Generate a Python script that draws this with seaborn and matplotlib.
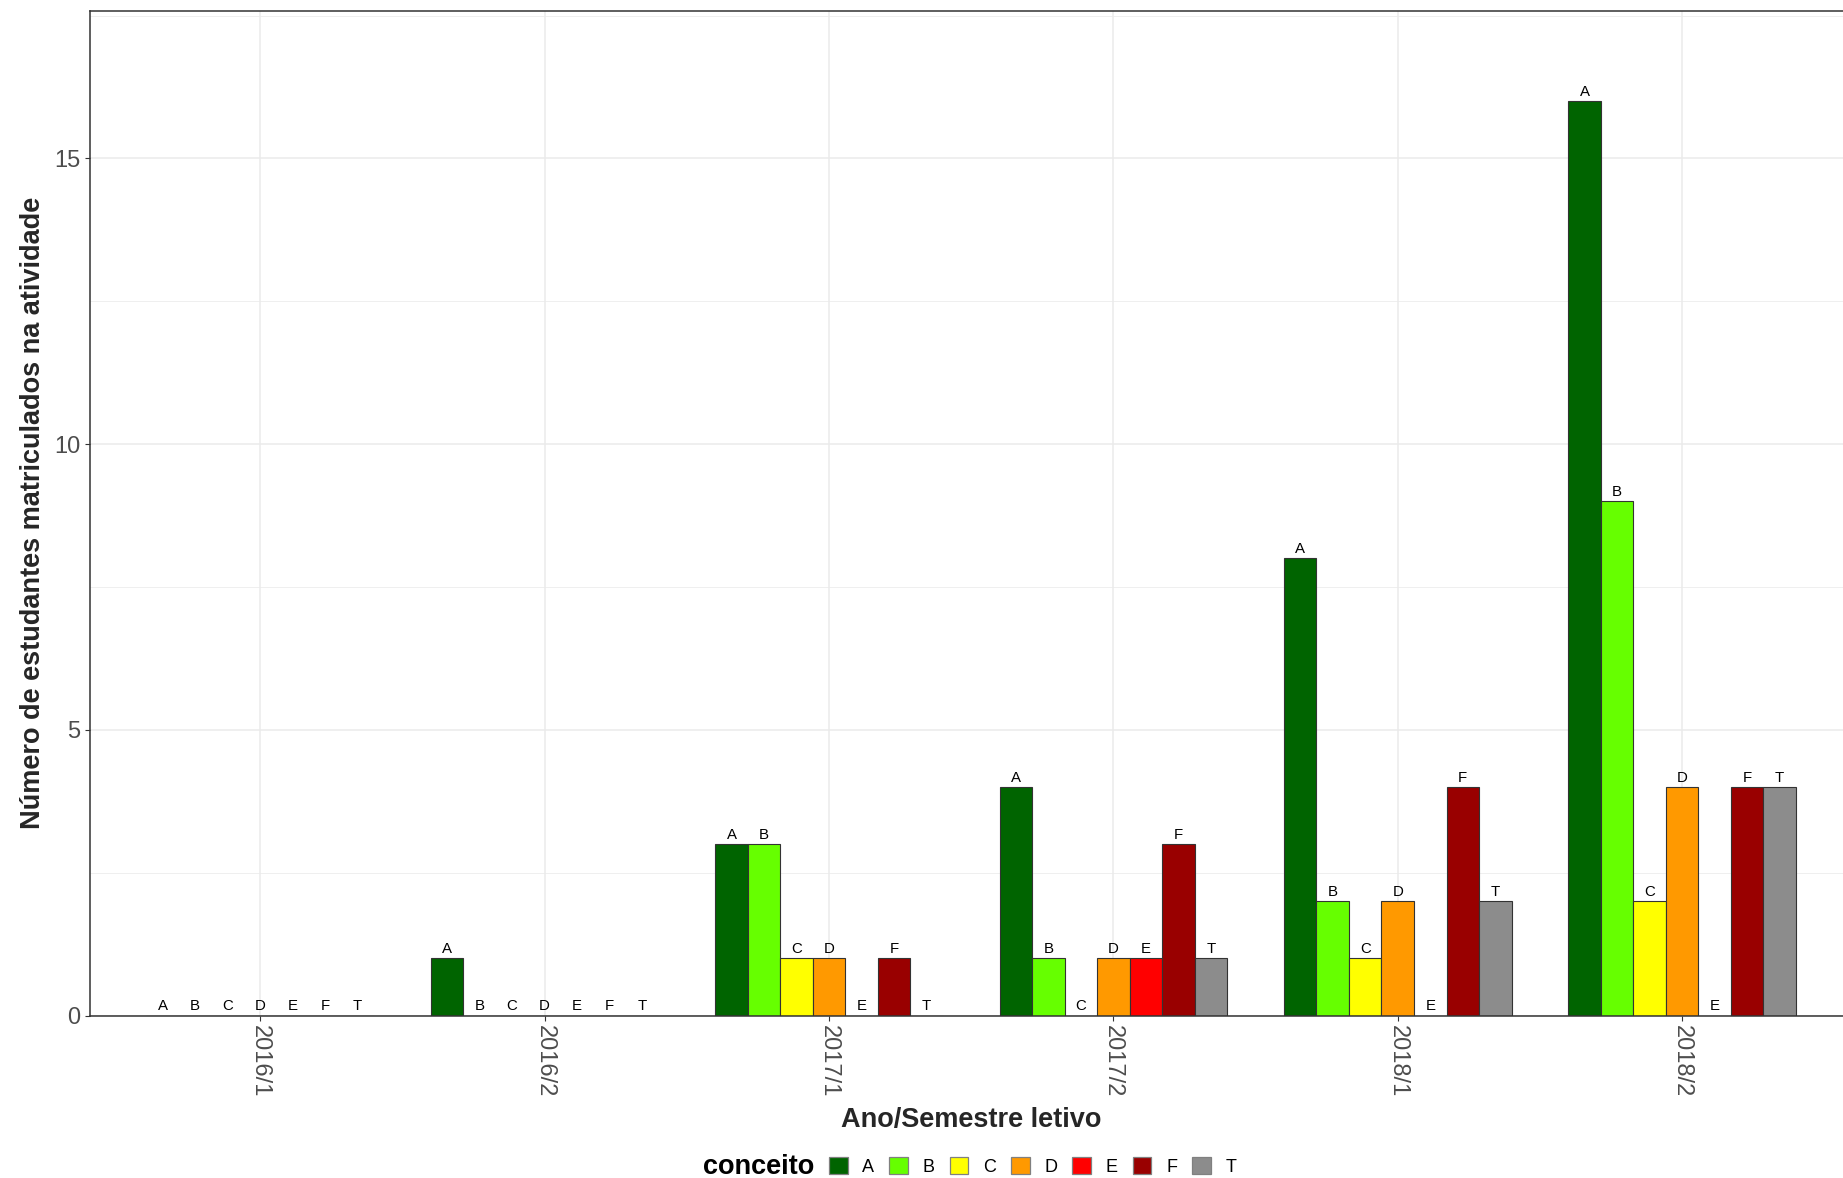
import pandas as pd
import numpy as np
import matplotlib.pyplot as plt
import seaborn as sns
from matplotlib.patches import Patch

# dados: numero de estudantes por conceito em cada semestre
semestres = ["2016/1", "2016/2", "2017/1", "2017/2", "2018/1", "2018/2"]
conceitos = ["A", "B", "C", "D", "E", "F", "T"]
n_A = [0, 1, 3, 4, 8, 16]
n_B = [0, 0, 3, 1, 2, 9]
n_C = [0, 0, 1, 0, 1, 2]
n_D = [0, 0, 1, 1, 2, 4]
n_E = [0, 0, 0, 1, 0, 0]
n_F = [0, 0, 1, 3, 4, 4]
n_T = [0, 0, 0, 1, 2, 4]
cores = ["#006400", "#66FF00", "#FFFF00", "#FF9900", "#FF0000", "#990000", "#8C8C8C"]

contagens = [n_A, n_B, n_C, n_D, n_E, n_F, n_T]
df = pd.DataFrame({
    "semestre": np.tile(semestres, len(conceitos)),
    "conceito": np.repeat(conceitos, len(semestres)),
    "n": np.concatenate(contagens),
})

sns.set_style("ticks")
plt.rcParams["font.family"] = ["Liberation Sans", "DejaVu Sans"]

fig = plt.figure(figsize=(18.43, 11.78), dpi=100)
ax = fig.add_axes([0.0486, 0.1379, 0.9567, 0.8528])

sns.barplot(data=df, x="semestre", y="n", hue="conceito", order=semestres,
            hue_order=conceitos, palette=cores, saturation=1, width=0.8,
            errorbar=None, edgecolor="#333333", linewidth=0.8, legend=False, ax=ax)

# rotulos em cima das barras
for cont, c in zip(ax.containers, conceitos):
    ax.bar_label(cont, labels=[c] * len(cont), padding=1.5, fontsize=10.8, color="black")

ax.set_xlim(-0.6, 5.6)
ax.set_ylim(0, 17.58)
ax.set_yticks([0, 5, 10, 15])
ax.set_yticks([2.5, 7.5, 12.5, 17.5], minor=True)
ax.grid(which="major", color="#EBEBEB", linewidth=1.1)
ax.grid(which="minor", axis="y", color="#EBEBEB", linewidth=0.55)
ax.set_axisbelow(True)

ax.tick_params(which="major", length=3.5, width=0.8, color="#333333",
               labelsize=17, labelcolor="#4D4D4D", pad=3)
ax.tick_params(which="minor", length=0)
plt.setp(ax.get_xticklabels(), rotation=270)
for s in ax.spines.values():
    s.set_visible(True)
    s.set_color("#333333")
    s.set_linewidth(1.1)

ax.set_xlabel("Ano/Semestre letivo", fontsize=19.5, fontweight="bold", labelpad=7)
ax.set_ylabel("Número de estudantes matriculados na atividade", fontsize=19.5,
              fontweight="bold", labelpad=5.7)

# legenda embaixo
y_leg = 1 - 1166.5 / 1178
fig.text(703 / 1843, y_leg, "conceito", fontsize=19.5, fontweight="bold",
         ha="left", va="center", color="black")
handles = [Patch(facecolor=c, edgecolor="#808080", linewidth=0.9) for c in cores]
leg = fig.legend(handles, conceitos, loc="center left", bbox_to_anchor=(829 / 1843, y_leg),
                 ncol=7, frameon=False, fontsize=13, handlelength=1.03, handleheight=1.03,
                 handletextpad=0.82, columnspacing=0.83, borderpad=0, borderaxespad=0)
for t in leg.get_texts():
    t.set_color("black")

plt.savefig("out.png", dpi=100)
